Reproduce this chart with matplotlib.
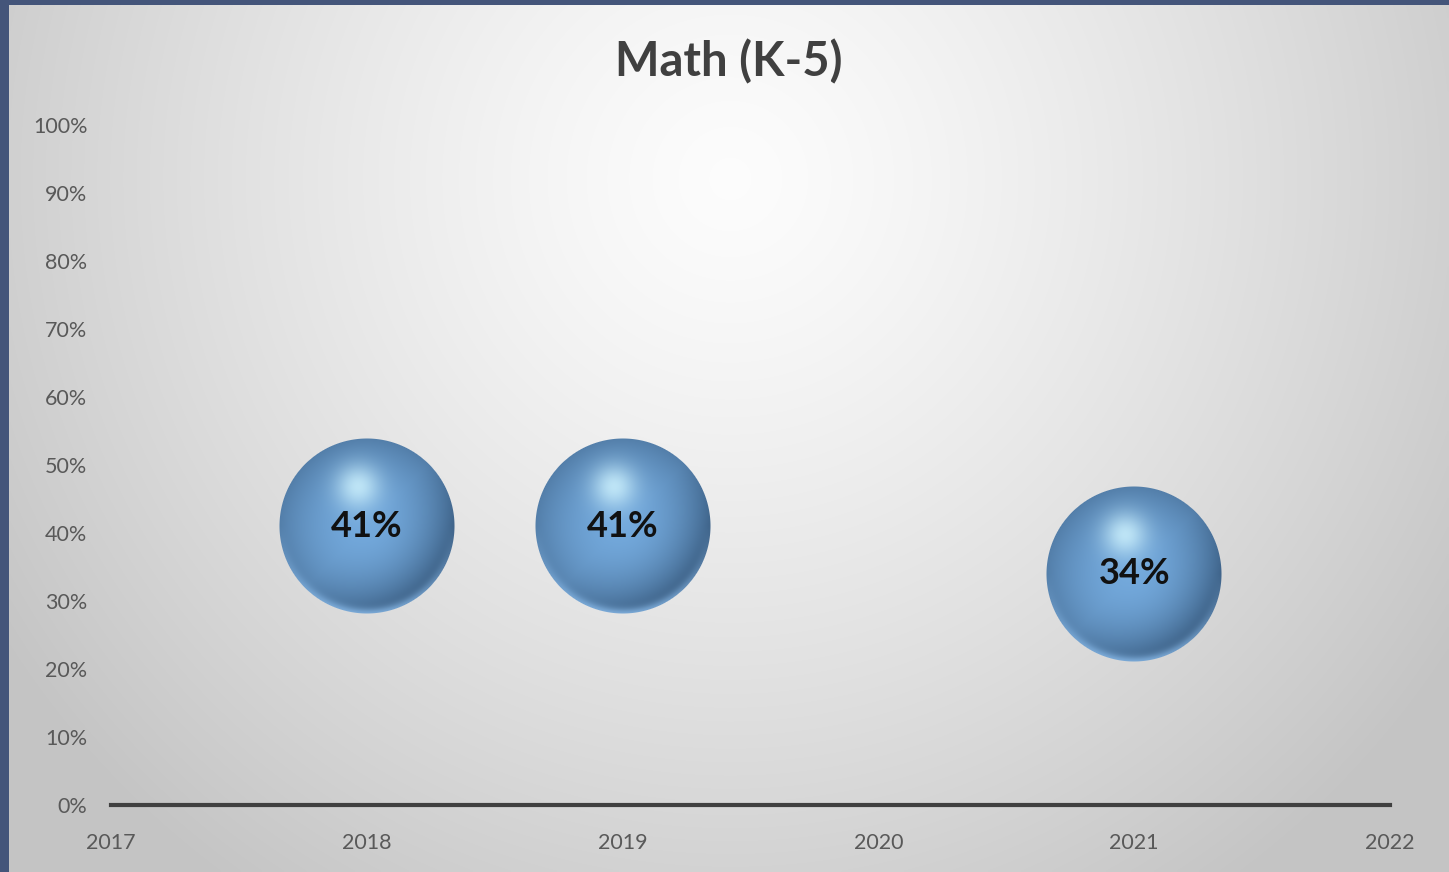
import numpy as np
import matplotlib
matplotlib.use("Agg")
import matplotlib.pyplot as plt
from matplotlib.offsetbox import OffsetImage, AnnotationBbox
from matplotlib.ticker import PercentFormatter

# data
years = [2018, 2019, 2021]
values = [0.41, 0.41, 0.34]
labels = ["41%", "41%", "34%"]

plt.rcParams['font.family'] = ['Lato', 'DejaVu Sans']

W, H = 1449, 872
fig = plt.figure(figsize=(W / 100, H / 100), dpi=100)
fig.patch.set_facecolor('#44557a')

# background panel with radial gradient
bg = fig.add_axes([9 / W, 0, 1 - 9 / W, 1 - 5 / H])
bg.set_axis_off()
yy, xx = np.mgrid[0:300, 0:500]
cx, cy = 250, 60
d = np.sqrt(((xx - cx) / 300) ** 2 + ((yy - cy) / 300) ** 2)
d = np.clip(d, 0, 1)
shade = 0.99 - 0.22 * d ** 1.3
bgimg = np.dstack([shade, shade, shade])
bg.imshow(bgimg, aspect='auto', extent=[0, 1, 0, 1], interpolation='bilinear')


def sphere(size=176):
    r = size / 2
    y, x = np.mgrid[0:size, 0:size]
    nx = (x - r + 0.5) / r
    ny = (y - r + 0.5) / r
    rr = np.sqrt(nx ** 2 + ny ** 2)
    base = np.array([0.45, 0.66, 0.86])
    dark = np.array([0.17, 0.29, 0.42])
    # darken toward lower right
    t = np.clip(rr, 0, 1)
    sh = np.clip(0.45 * t ** 2 + 0.4 * np.clip((nx + ny) / 1.4, 0, 1) * t, 0, 1)
    col = base[None, None, :] * (1 - sh[..., None]) + dark[None, None, :] * sh[..., None]
    # highlight upper-centre
    hd = np.sqrt((nx + 0.1) ** 2 + (ny + 0.45) ** 2)
    hl = np.exp(-(hd / 0.25) ** 2) * 0.8
    col = col * (1 - hl[..., None]) + np.array([0.82, 0.96, 1.0]) * hl[..., None]
    # rim light along bottom edge
    rim = np.exp(-((1 - rr) / 0.07) ** 2) * np.clip(ny, 0, 1) * 0.7
    col = col * (1 - rim[..., None]) + np.array([0.58, 0.78, 0.97]) * rim[..., None]
    alpha = np.clip((1 - rr) * r, 0, 1)
    return np.dstack([np.clip(col, 0, 1), alpha])


ax = fig.add_axes([111 / W, 1 - 805 / H, (1390 - 111) / W, (805 - 125) / H])
ax.patch.set_alpha(0)
ax.set_xlim(2017, 2022)
ax.set_ylim(0, 1)
ax.set_yticks(np.arange(0, 1.01, 0.1))
ax.yaxis.set_major_formatter(PercentFormatter(1.0, decimals=0))
ax.set_xticks(range(2017, 2023))
ax.tick_params(length=0, labelsize=15.5, colors='#595959')
ax.tick_params(axis='x', pad=20)
ax.tick_params(axis='y', pad=17)
for s in ['top', 'right', 'left']:
    ax.spines[s].set_visible(False)
ax.spines['bottom'].set_color('#404040')
ax.spines['bottom'].set_linewidth(3)

img = sphere()
for x, v, lab in zip(years, values, labels):
    ab = AnnotationBbox(OffsetImage(img, zoom=72 / 100), (x, v), frameon=False, zorder=3)
    ax.add_artist(ab)
    ax.text(x, v, lab, ha='center', va='center', fontsize=26, fontweight='bold',
            color='#111111', zorder=4)

fig.text(729 / W, 1 - 62 / H, "Math (K-5)", ha='center', va='center', fontsize=34,
         fontweight='bold', color='#404040')

fig.savefig('out.png', dpi=100, facecolor=fig.get_facecolor())
